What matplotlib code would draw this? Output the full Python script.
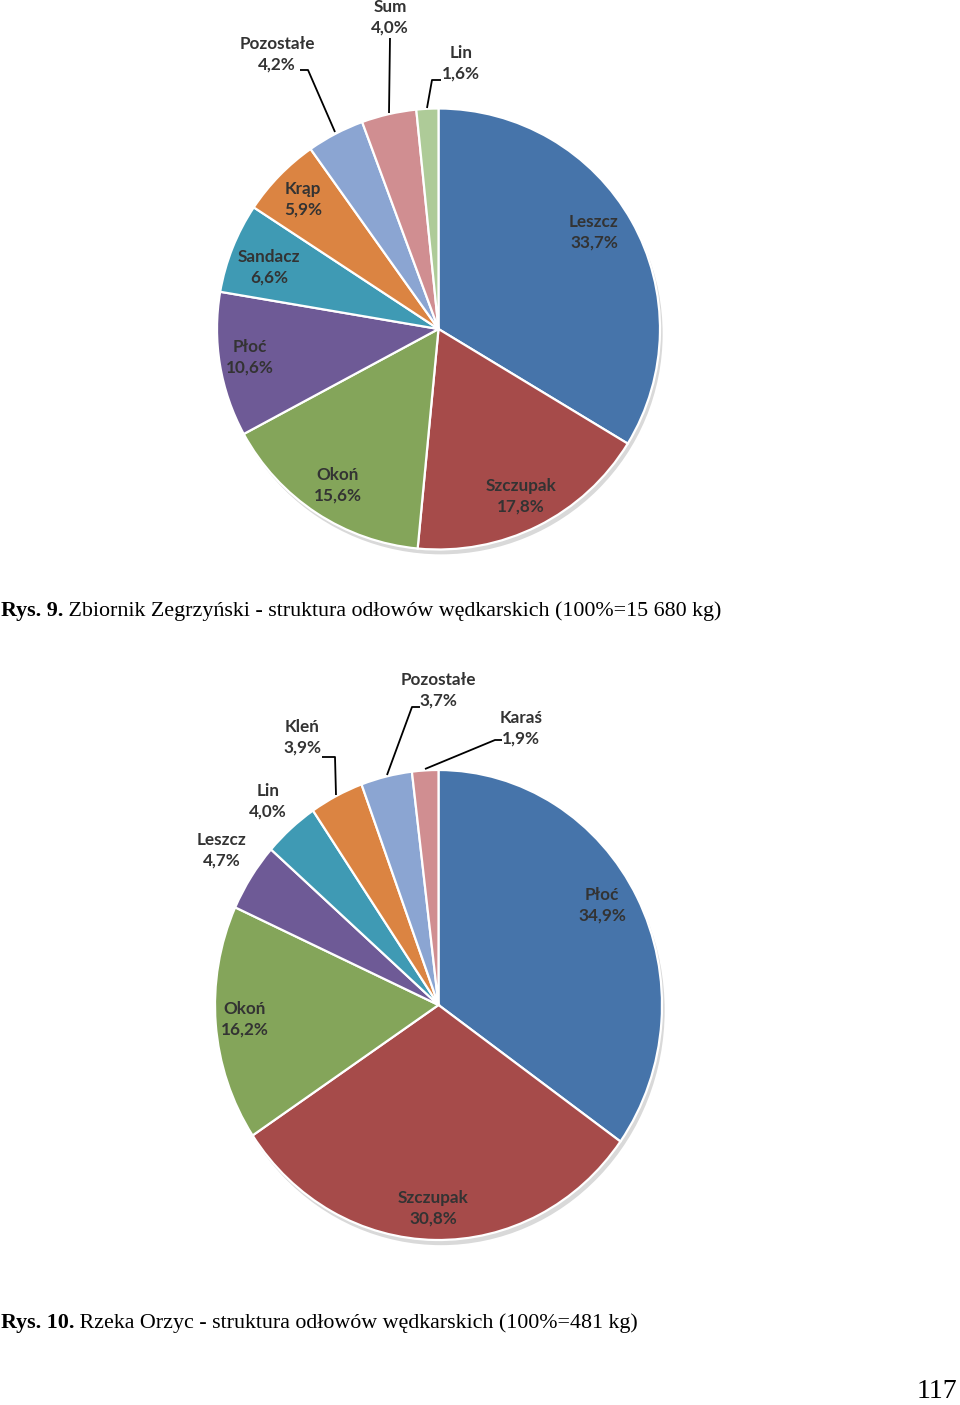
import matplotlib
matplotlib.use('Agg')
import matplotlib.pyplot as plt
from matplotlib.patches import Ellipse

# ---------------- data ----------------
names1 = ['Leszcz', 'Szczupak', 'Okoń', 'Płoć', 'Sandacz', 'Krąp', 'Pozostałe', 'Sum', 'Lin']
values1 = [33.7, 17.8, 15.6, 10.6, 6.6, 5.9, 4.2, 4.0, 1.6]

names2 = ['Płoć', 'Szczupak', 'Okoń', 'Leszcz', 'Lin', 'Kleń', 'Pozostałe', 'Karaś']
values2 = [34.9, 30.8, 16.2, 4.7, 4.0, 3.9, 3.7, 1.9]

caption1_bold = 'Rys. 9.'
caption1_text = ' Zbiornik Zegrzyński - struktura odłowów wędkarskich (100%=15 680 kg)'
caption2_bold = 'Rys. 10.'
caption2_text = ' Rzeka Orzyc - struktura odłowów wędkarskich (100%=481 kg)'
page_number = '117'

colors = ['#4674AA', '#A64B4A', '#84A55A', '#6E5A96', '#3F9AB4',
          '#DB8442', '#8BA5D2', '#D08E91', '#AECB98']

# ---------------- layout (pixels) ----------------
W, H = 960, 1405
pie1_geom = (438.5, 329, 221.5, 220.5)   # cx, cy, rx, ry
pie2_geom = (438.5, 1005, 223.5, 235)

label_pos1 = [(594, 232), (521, 496), (338, 485), (250, 357), (269, 267),
              (303, 199), (277, 54), (390, 17), (461, 63)]
label_pos2 = [(602, 905), (433, 1208), (245, 1019), (222, 850), (268, 801),
              (302, 737), (438, 690), (521, 728)]

leaders1 = {6: [(300, 70), (308, 70), (335, 132)],
            7: [(390, 38), (389, 113)],
            8: [(441, 80), (432, 80), (427, 108)]}
leaders2 = {5: [(322, 757), (335, 757), (336, 795)],
            6: [(420, 707), (412, 707), (387, 775)],
            7: [(502, 740), (495, 740), (425, 769)]}

fig = plt.figure(figsize=(W / 100, H / 100), dpi=100)
fig.patch.set_facecolor('white')


def fmt(v):
    return ('%.1f' % v).replace('.', ',') + '%'


def draw_pie(geom, names, values, label_pos, leaders):
    cx, cy, rx, ry = geom
    ax = fig.add_axes([(cx - rx) / W, 1 - (cy + ry) / H, 2 * rx / W, 2 * ry / H])
    ax.add_patch(Ellipse((0.012, -0.022), 2.0, 2.0, facecolor='#d9d9d9',
                         edgecolor='none', zorder=0, clip_on=False))
    ax.pie(values, colors=colors[:len(values)], startangle=90, counterclock=False,
           radius=1, wedgeprops=dict(edgecolor='white', linewidth=1.6))
    ax.set_aspect('auto')
    ax.set_xlim(-1, 1)
    ax.set_ylim(-1, 1)
    ax.axis('off')

    def to_data(p):
        return ((p[0] - cx) / rx, (cy - p[1]) / ry)

    for name, v, p in zip(names, values, label_pos):
        x, y = to_data(p)
        ax.text(x, y, name + '\n' + fmt(v), ha='center', va='center',
                fontsize=12.3, fontweight='bold', family='Lato', color='#333333',
                linespacing=1.32, clip_on=False, zorder=5)
    for idx, pts in leaders.items():
        d = [to_data(p) for p in pts]
        ax.plot([q[0] for q in d], [q[1] for q in d], color='black', lw=1.3,
                clip_on=False, zorder=4, solid_capstyle='butt')
    return ax


draw_pie(pie1_geom, names1, values1, label_pos1, leaders1)
draw_pie(pie2_geom, names2, values2, label_pos2, leaders2)

# ---------------- captions ----------------
serif = 'Liberation Serif'
cap_size = 15.8
renderer = fig.canvas.get_renderer()


def caption(bold, text, x, baseline):
    t1 = fig.text(x / W, 1 - baseline / H, bold, fontsize=cap_size, fontweight='bold',
                  family=serif, ha='left', va='baseline')
    bb = t1.get_window_extent(renderer=renderer)
    fig.text((bb.x1) / W, 1 - baseline / H, text, fontsize=cap_size,
             family=serif, ha='left', va='baseline')


caption(caption1_bold, caption1_text, 1, 616)
caption(caption2_bold, caption2_text, 1, 1328)

fig.text(957 / W, 1 - 1398 / H, page_number, fontsize=20, family=serif,
         ha='right', va='baseline')

fig.savefig('out.png', dpi=100, facecolor='white')
